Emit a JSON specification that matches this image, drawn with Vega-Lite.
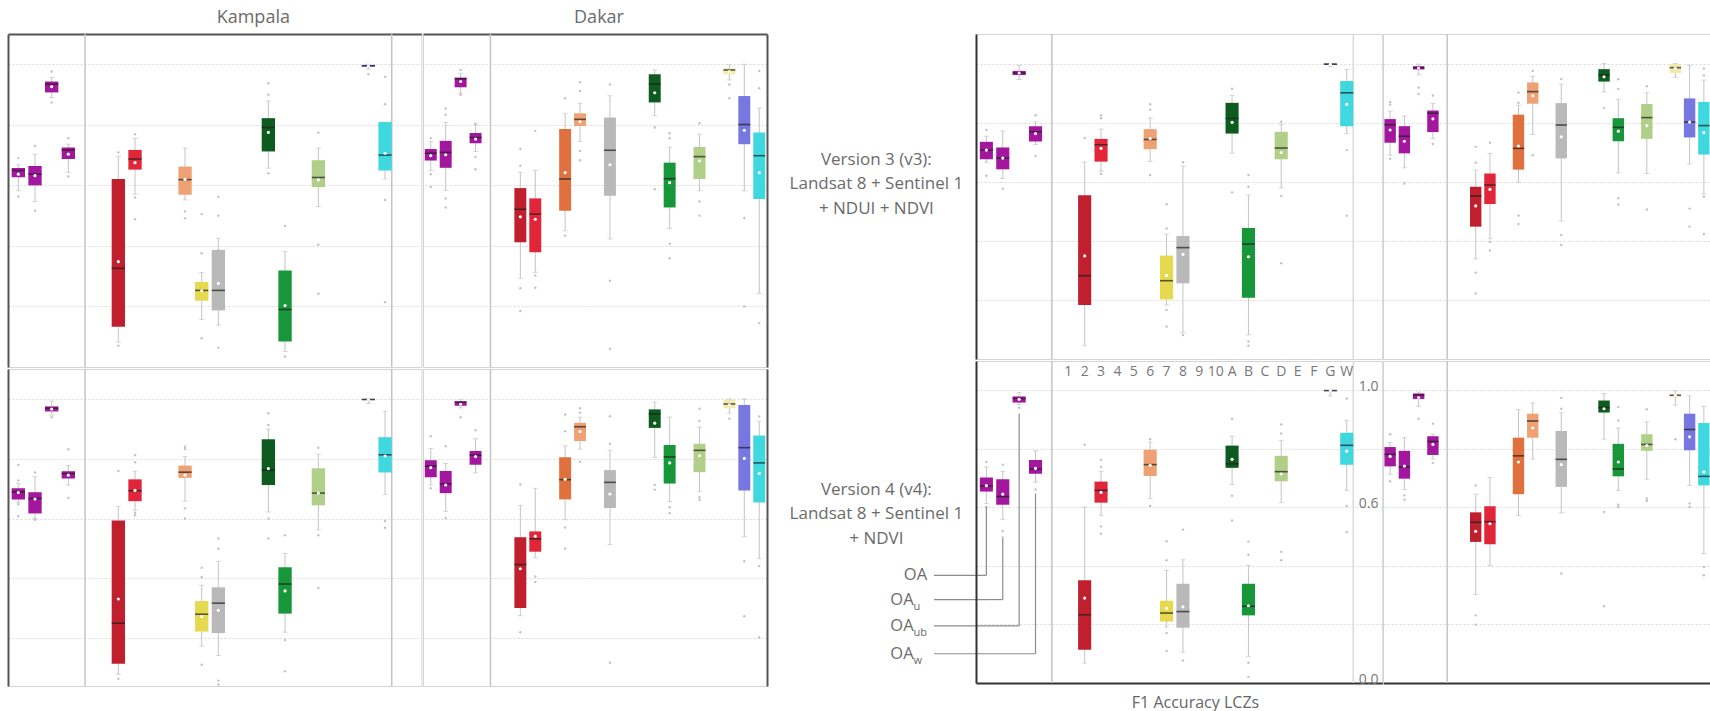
{
"$schema": "https://vega.github.io/schema/vega-lite/v6.json",
"padding": {"left": 7, "top": 8, "right": 0, "bottom": 0},
"config": {"font": "Open Sans", "view": {"stroke": "#d4d4d4"}, "axis": {"gridColor": "#d9d9d9", "gridDash": [2, 2], "gridWidth": 1}, "title": {"fontSize": 18, "fontWeight": "normal", "color": "#6b6b6b", "offset": 6, "font": "Open Sans"}},
"datasets": {
"boxes": [
{"p":"K3","c":"OA","lo":0.582,"q1":0.627,"md":0.649,"q3":0.657,"hi":0.668,"mn":0.637},
{"p":"K3","c":"OAu","lo":0.547,"q1":0.600,"md":0.637,"q3":0.664,"hi":0.703,"mn":0.632},
{"p":"K3","c":"OAub","lo":0.890,"q1":0.907,"md":0.934,"q3":0.943,"hi":0.956,"mn":0.926},
{"p":"K3","c":"OAw","lo":0.643,"q1":0.687,"md":0.717,"q3":0.725,"hi":0.736,"mn":0.703},
{"p":"K3","c":"2","lo":0.082,"q1":0.133,"md":0.326,"q3":0.621,"hi":0.696,"mn":0.348},
{"p":"K3","c":"3","lo":0.571,"q1":0.652,"md":0.687,"q3":0.717,"hi":0.755,"mn":0.675},
{"p":"K3","c":"6","lo":0.552,"q1":0.569,"md":0.619,"q3":0.662,"hi":0.723,"mn":0.620},
{"p":"K3","c":"7","lo":0.157,"q1":0.219,"md":0.253,"q3":0.281,"hi":0.312,"mn":0.252},
{"p":"K3","c":"8","lo":0.138,"q1":0.187,"md":0.253,"q3":0.387,"hi":0.425,"mn":0.276},
{"p":"K3","c":"A","lo":0.657,"q1":0.712,"md":0.791,"q3":0.822,"hi":0.879,"mn":0.775},
{"p":"K3","c":"B","lo":0.051,"q1":0.084,"md":0.190,"q3":0.319,"hi":0.381,"mn":0.203},
{"p":"K3","c":"D","lo":0.530,"q1":0.594,"md":0.626,"q3":0.683,"hi":0.723,"mn":0.618},
{"p":"K3","c":"G","lo":0.984,"q1":0.992,"md":0.995,"q3":0.998,"hi":1.0,"mn":0.995},
{"p":"K3","c":"W","lo":0.621,"q1":0.649,"md":0.700,"q3":0.809,"hi":0.809,"mn":0.706},
{"p":"D3","c":"OA","lo":0.649,"q1":0.682,"md":0.706,"q3":0.720,"hi":0.745,"mn":0.698},
{"p":"D3","c":"OAu","lo":0.584,"q1":0.658,"md":0.709,"q3":0.747,"hi":0.808,"mn":0.701},
{"p":"D3","c":"OAub","lo":0.904,"q1":0.924,"md":0.952,"q3":0.956,"hi":0.970,"mn":0.943},
{"p":"D3","c":"OAw","lo":0.712,"q1":0.739,"md":0.758,"q3":0.773,"hi":0.800,"mn":0.753},
{"p":"D3","c":"2","lo":0.293,"q1":0.412,"md":0.521,"q3":0.591,"hi":0.643,"mn":0.496},
{"p":"D3","c":"3","lo":0.313,"q1":0.379,"md":0.505,"q3":0.557,"hi":0.649,"mn":0.488},
{"p":"D3","c":"5","lo":0.450,"q1":0.516,"md":0.621,"q3":0.786,"hi":0.838,"mn":0.642},
{"p":"D3","c":"6","lo":0.745,"q1":0.796,"md":0.818,"q3":0.838,"hi":0.871,"mn":0.810},
{"p":"D3","c":"8","lo":0.423,"q1":0.566,"md":0.716,"q3":0.824,"hi":0.896,"mn":0.668},
{"p":"D3","c":"A","lo":0.830,"q1":0.874,"md":0.935,"q3":0.967,"hi":0.981,"mn":0.906},
{"p":"D3","c":"B","lo":0.458,"q1":0.527,"md":0.622,"q3":0.675,"hi":0.726,"mn":0.609},
{"p":"D3","c":"D","lo":0.582,"q1":0.621,"md":0.695,"q3":0.727,"hi":0.769,"mn":0.681},
{"p":"D3","c":"F","lo":0.948,"q1":0.967,"md":0.981,"q3":0.987,"hi":0.998,"mn":0.976},
{"p":"D3","c":"G","lo":0.582,"q1":0.736,"md":0.801,"q3":0.895,"hi":1.0,"mn":0.782},
{"p":"D3","c":"W","lo":0.243,"q1":0.555,"md":0.698,"q3":0.775,"hi":0.855,"mn":0.642},
{"p":"K4","c":"OA","lo":0.654,"q1":0.664,"md":0.689,"q3":0.701,"hi":0.717,"mn":0.687},
{"p":"K4","c":"OAu","lo":0.600,"q1":0.617,"md":0.667,"q3":0.688,"hi":0.740,"mn":0.665},
{"p":"K4","c":"OAub","lo":0.946,"q1":0.958,"md":0.969,"q3":0.975,"hi":0.993,"mn":0.966},
{"p":"K4","c":"OAw","lo":0.712,"q1":0.734,"md":0.750,"q3":0.758,"hi":0.777,"mn":0.745},
{"p":"K4","c":"2","lo":0.079,"q1":0.114,"md":0.250,"q3":0.593,"hi":0.641,"mn":0.331},
{"p":"K4","c":"3","lo":0.628,"q1":0.658,"md":0.693,"q3":0.731,"hi":0.759,"mn":0.694},
{"p":"K4","c":"6","lo":0.658,"q1":0.736,"md":0.755,"q3":0.777,"hi":0.807,"mn":0.745},
{"p":"K4","c":"7","lo":0.173,"q1":0.222,"md":0.280,"q3":0.324,"hi":0.377,"mn":0.272},
{"p":"K4","c":"8","lo":0.142,"q1":0.217,"md":0.317,"q3":0.370,"hi":0.457,"mn":0.293},
{"p":"K4","c":"A","lo":0.622,"q1":0.712,"md":0.762,"q3":0.865,"hi":0.899,"mn":0.767},
{"p":"K4","c":"B","lo":0.220,"q1":0.282,"md":0.381,"q3":0.437,"hi":0.483,"mn":0.358},
{"p":"K4","c":"D","lo":0.562,"q1":0.644,"md":0.685,"q3":0.768,"hi":0.815,"mn":0.685},
{"p":"K4","c":"G","lo":0.985,"q1":0.997,"md":0.998,"q3":1.0,"hi":1.0,"mn":0.998},
{"p":"K4","c":"W","lo":0.680,"q1":0.754,"md":0.813,"q3":0.872,"hi":0.958,"mn":0.809},
{"p":"D4","c":"OA","lo":0.712,"q1":0.738,"md":0.775,"q3":0.795,"hi":0.834,"mn":0.770},
{"p":"D4","c":"OAu","lo":0.624,"q1":0.685,"md":0.716,"q3":0.759,"hi":0.784,"mn":0.712},
{"p":"D4","c":"OAub","lo":0.970,"q1":0.977,"md":0.989,"q3":0.992,"hi":0.997,"mn":0.982},
{"p":"D4","c":"OAw","lo":0.753,"q1":0.780,"md":0.812,"q3":0.826,"hi":0.867,"mn":0.807},
{"p":"D4","c":"2","lo":0.275,"q1":0.301,"md":0.446,"q3":0.537,"hi":0.644,"mn":0.432},
{"p":"D4","c":"3","lo":0.469,"q1":0.489,"md":0.532,"q3":0.557,"hi":0.701,"mn":0.541},
{"p":"D4","c":"5","lo":0.596,"q1":0.664,"md":0.730,"q3":0.805,"hi":0.843,"mn":0.731},
{"p":"D4","c":"6","lo":0.832,"q1":0.859,"md":0.907,"q3":0.920,"hi":0.939,"mn":0.891},
{"p":"D4","c":"8","lo":0.513,"q1":0.635,"md":0.721,"q3":0.762,"hi":0.828,"mn":0.682},
{"p":"D4","c":"A","lo":0.804,"q1":0.903,"md":0.950,"q3":0.965,"hi":0.989,"mn":0.919},
{"p":"D4","c":"B","lo":0.657,"q1":0.717,"md":0.806,"q3":0.846,"hi":0.939,"mn":0.786},
{"p":"D4","c":"D","lo":0.690,"q1":0.755,"md":0.828,"q3":0.850,"hi":0.906,"mn":0.810},
{"p":"D4","c":"F","lo":0.952,"q1":0.969,"md":0.983,"q3":0.997,"hi":1.0,"mn":0.980},
{"p":"D4","c":"G","lo":0.539,"q1":0.694,"md":0.837,"q3":0.980,"hi":1.0,"mn":0.801},
{"p":"D4","c":"W","lo":0.466,"q1":0.654,"md":0.786,"q3":0.878,"hi":0.925,"mn":0.751},
{"p":"A3","c":"OA","lo":0.666,"q1":0.676,"md":0.707,"q3":0.735,"hi":0.754,"mn":0.707},
{"p":"A3","c":"OAu","lo":0.611,"q1":0.642,"md":0.680,"q3":0.716,"hi":0.772,"mn":0.680},
{"p":"A3","c":"OAub","lo":0.946,"q1":0.961,"md":0.968,"q3":0.975,"hi":0.994,"mn":0.968},
{"p":"A3","c":"OAw","lo":0.726,"q1":0.736,"md":0.769,"q3":0.788,"hi":0.803,"mn":0.763},
{"p":"A3","c":"2","lo":0.045,"q1":0.183,"md":0.282,"q3":0.554,"hi":0.666,"mn":0.349},
{"p":"A3","c":"3","lo":0.635,"q1":0.668,"md":0.725,"q3":0.745,"hi":0.778,"mn":0.713},
{"p":"A3","c":"6","lo":0.669,"q1":0.710,"md":0.743,"q3":0.778,"hi":0.816,"mn":0.746},
{"p":"A3","c":"7","lo":0.183,"q1":0.202,"md":0.265,"q3":0.350,"hi":0.423,"mn":0.283},
{"p":"A3","c":"8","lo":0.090,"q1":0.256,"md":0.377,"q3":0.416,"hi":0.653,"mn":0.354},
{"p":"A3","c":"A","lo":0.696,"q1":0.763,"md":0.814,"q3":0.867,"hi":0.892,"mn":0.801},
{"p":"A3","c":"B","lo":0.082,"q1":0.207,"md":0.389,"q3":0.443,"hi":0.555,"mn":0.346},
{"p":"A3","c":"D","lo":0.579,"q1":0.676,"md":0.714,"q3":0.769,"hi":0.794,"mn":0.699},
{"p":"A3","c":"G","lo":0.990,"q1":0.995,"md":0.998,"q3":1.0,"hi":1.0,"mn":0.998},
{"p":"A3","c":"W","lo":0.763,"q1":0.788,"md":0.901,"q3":0.941,"hi":0.980,"mn":0.862},
{"p":"B3","c":"OA","lo":0.690,"q1":0.732,"md":0.793,"q3":0.812,"hi":0.839,"mn":0.775},
{"p":"B3","c":"OAu","lo":0.647,"q1":0.696,"md":0.754,"q3":0.788,"hi":0.822,"mn":0.737},
{"p":"B3","c":"OAub","lo":0.962,"q1":0.980,"md":0.986,"q3":0.991,"hi":0.998,"mn":0.985},
{"p":"B3","c":"OAw","lo":0.746,"q1":0.768,"md":0.832,"q3":0.841,"hi":0.865,"mn":0.813},
{"p":"B3","c":"2","lo":0.339,"q1":0.448,"md":0.552,"q3":0.583,"hi":0.639,"mn":0.518},
{"p":"B3","c":"3","lo":0.407,"q1":0.525,"md":0.589,"q3":0.628,"hi":0.696,"mn":0.574},
{"p":"B3","c":"5","lo":0.597,"q1":0.641,"md":0.713,"q3":0.827,"hi":0.859,"mn":0.721},
{"p":"B3","c":"6","lo":0.760,"q1":0.864,"md":0.905,"q3":0.936,"hi":0.957,"mn":0.891},
{"p":"B3","c":"8","lo":0.467,"q1":0.679,"md":0.792,"q3":0.866,"hi":0.930,"mn":0.752},
{"p":"B3","c":"A","lo":0.904,"q1":0.939,"md":0.961,"q3":0.981,"hi":1.0,"mn":0.955},
{"p":"B3","c":"B","lo":0.630,"q1":0.737,"md":0.784,"q3":0.815,"hi":0.879,"mn":0.771},
{"p":"B3","c":"D","lo":0.628,"q1":0.745,"md":0.817,"q3":0.863,"hi":0.901,"mn":0.790},
{"p":"B3","c":"F","lo":0.953,"q1":0.968,"md":0.986,"q3":0.998,"hi":1.0,"mn":0.984},
{"p":"B3","c":"G","lo":0.660,"q1":0.750,"md":0.802,"q3":0.882,"hi":0.994,"mn":0.802},
{"p":"B3","c":"W","lo":0.558,"q1":0.692,"md":0.790,"q3":0.870,"hi":0.944,"mn":0.766},
{"p":"A4","c":"OA","lo":0.613,"q1":0.654,"md":0.673,"q3":0.702,"hi":0.738,"mn":0.674},
{"p":"A4","c":"OAu","lo":0.559,"q1":0.609,"md":0.637,"q3":0.696,"hi":0.723,"mn":0.645},
{"p":"A4","c":"OAub","lo":0.951,"q1":0.958,"md":0.972,"q3":0.979,"hi":0.992,"mn":0.969},
{"p":"A4","c":"OAw","lo":0.686,"q1":0.715,"md":0.731,"q3":0.762,"hi":0.793,"mn":0.733},
{"p":"A4","c":"2","lo":0.068,"q1":0.114,"md":0.233,"q3":0.351,"hi":0.601,"mn":0.290},
{"p":"A4","c":"3","lo":0.572,"q1":0.616,"md":0.658,"q3":0.688,"hi":0.723,"mn":0.651},
{"p":"A4","c":"6","lo":0.630,"q1":0.707,"md":0.746,"q3":0.797,"hi":0.823,"mn":0.744},
{"p":"A4","c":"7","lo":0.191,"q1":0.210,"md":0.239,"q3":0.281,"hi":0.385,"mn":0.255},
{"p":"A4","c":"8","lo":0.105,"q1":0.189,"md":0.244,"q3":0.339,"hi":0.421,"mn":0.260},
{"p":"A4","c":"A","lo":0.678,"q1":0.735,"md":0.749,"q3":0.811,"hi":0.843,"mn":0.764},
{"p":"A4","c":"B","lo":0.091,"q1":0.231,"md":0.262,"q3":0.339,"hi":0.402,"mn":0.264},
{"p":"A4","c":"D","lo":0.616,"q1":0.689,"md":0.722,"q3":0.776,"hi":0.828,"mn":0.714},
{"p":"A4","c":"G","lo":0.981,"q1":0.997,"md":0.999,"q3":1.0,"hi":1.0,"mn":0.999},
{"p":"A4","c":"W","lo":0.658,"q1":0.746,"md":0.812,"q3":0.855,"hi":0.897,"mn":0.792},
{"p":"B4","c":"OA","lo":0.713,"q1":0.740,"md":0.781,"q3":0.806,"hi":0.822,"mn":0.774},
{"p":"B4","c":"OAu","lo":0.661,"q1":0.698,"md":0.738,"q3":0.793,"hi":0.838,"mn":0.741},
{"p":"B4","c":"OAub","lo":0.945,"q1":0.970,"md":0.984,"q3":0.989,"hi":0.994,"mn":0.975},
{"p":"B4","c":"OAw","lo":0.765,"q1":0.779,"md":0.825,"q3":0.843,"hi":0.850,"mn":0.815},
{"p":"B4","c":"2","lo":0.302,"q1":0.482,"md":0.549,"q3":0.583,"hi":0.645,"mn":0.518},
{"p":"B4","c":"3","lo":0.402,"q1":0.474,"md":0.551,"q3":0.604,"hi":0.702,"mn":0.544},
{"p":"B4","c":"5","lo":0.572,"q1":0.645,"md":0.776,"q3":0.838,"hi":0.934,"mn":0.755},
{"p":"B4","c":"6","lo":0.765,"q1":0.838,"md":0.895,"q3":0.920,"hi":0.957,"mn":0.871},
{"p":"B4","c":"8","lo":0.581,"q1":0.670,"md":0.764,"q3":0.861,"hi":0.923,"mn":0.746},
{"p":"B4","c":"A","lo":0.833,"q1":0.924,"md":0.941,"q3":0.965,"hi":0.989,"mn":0.937},
{"p":"B4","c":"B","lo":0.658,"q1":0.706,"md":0.731,"q3":0.817,"hi":0.871,"mn":0.755},
{"p":"B4","c":"D","lo":0.696,"q1":0.793,"md":0.815,"q3":0.850,"hi":0.892,"mn":0.811},
{"p":"B4","c":"F","lo":0.949,"q1":0.978,"md":0.983,"q3":0.986,"hi":0.998,"mn":0.983},
{"p":"B4","c":"G","lo":0.675,"q1":0.795,"md":0.866,"q3":0.920,"hi":0.981,"mn":0.841},
{"p":"B4","c":"W","lo":0.442,"q1":0.675,"md":0.706,"q3":0.888,"hi":0.945,"mn":0.721}
],
"outl": [
{"p":"K3","c":"OA","v":0.690},{"p":"K3","c":"OA","v":0.563},{"p":"K3","c":"OAu","v":0.730},{"p":"K3","c":"OAu","v":0.516},{"p":"K3","c":"OAub","v":0.976},{"p":"K3","c":"OAub","v":0.874},{"p":"K3","c":"OAw","v":0.756},{"p":"K3","c":"OAw","v":0.629},
{"p":"K3","c":"2","v":0.709},{"p":"K3","c":"2","v":0.070},{"p":"K3","c":"3","v":0.769},{"p":"K3","c":"3","v":0.560},{"p":"K3","c":"3","v":0.488},{"p":"K3","c":"6","v":0.514},{"p":"K3","c":"6","v":0.491},
{"p":"K3","c":"7","v":0.376},{"p":"K3","c":"7","v":0.505},{"p":"K3","c":"7","v":0.095},{"p":"K3","c":"8","v":0.562},{"p":"K3","c":"8","v":0.500},{"p":"K3","c":"8","v":0.064},
{"p":"K3","c":"A","v":0.899},{"p":"K3","c":"A","v":0.937},{"p":"K3","c":"A","v":0.640},{"p":"K3","c":"B","v":0.466},{"p":"K3","c":"B","v":0.035},{"p":"K3","c":"D","v":0.774},{"p":"K3","c":"D","v":0.404},{"p":"K3","c":"D","v":0.242},
{"p":"K3","c":"G","v":0.967},{"p":"K3","c":"W","v":0.959},{"p":"K3","c":"W","v":0.868},{"p":"K3","c":"W","v":0.552},{"p":"K3","c":"W","v":0.214},
{"p":"D3","c":"OA","v":0.756},{"p":"D3","c":"OA","v":0.637},{"p":"D3","c":"OA","v":0.595},{"p":"D3","c":"OAu","v":0.854},{"p":"D3","c":"OAu","v":0.833},{"p":"D3","c":"OAu","v":0.557},{"p":"D3","c":"OAu","v":0.527},
{"p":"D3","c":"OAub","v":0.981},{"p":"D3","c":"OAub","v":0.899},{"p":"D3","c":"OAw","v":0.804},{"p":"D3","c":"OAw","v":0.694},{"p":"D3","c":"OAw","v":0.653},
{"p":"D3","c":"2","v":0.720},{"p":"D3","c":"2","v":0.665},{"p":"D3","c":"2","v":0.260},{"p":"D3","c":"2","v":0.185},{"p":"D3","c":"3","v":0.780},{"p":"D3","c":"3","v":0.302},{"p":"D3","c":"3","v":0.262},
{"p":"D3","c":"5","v":0.888},{"p":"D3","c":"5","v":0.434},{"p":"D3","c":"6","v":0.941},{"p":"D3","c":"6","v":0.912},{"p":"D3","c":"6","v":0.714},{"p":"D3","c":"6","v":0.683},
{"p":"D3","c":"8","v":0.933},{"p":"D3","c":"8","v":0.285},{"p":"D3","c":"8","v":0.060},{"p":"D3","c":"A","v":0.791},{"p":"D3","c":"A","v":0.587},
{"p":"D3","c":"B","v":0.772},{"p":"D3","c":"B","v":0.756},{"p":"D3","c":"B","v":0.407},{"p":"D3","c":"B","v":0.359},{"p":"D3","c":"D","v":0.805},{"p":"D3","c":"D","v":0.547},{"p":"D3","c":"D","v":0.500},
{"p":"D3","c":"F","v":0.933},{"p":"D3","c":"F","v":0.888},{"p":"D3","c":"G","v":0.492},{"p":"D3","c":"G","v":0.200},{"p":"D3","c":"W","v":0.978},{"p":"D3","c":"W","v":0.921},{"p":"D3","c":"W","v":0.145},
{"p":"K4","c":"OA","v":0.779},{"p":"K4","c":"OA","v":0.727},{"p":"K4","c":"OA","v":0.648},{"p":"K4","c":"OA","v":0.608},{"p":"K4","c":"OAu","v":0.754},{"p":"K4","c":"OAu","v":0.596},{"p":"K4","c":"OAub","v":0.939},{"p":"K4","c":"OAw","v":0.832},{"p":"K4","c":"OAw","v":0.669},
{"p":"K4","c":"2","v":0.759},{"p":"K4","c":"2","v":0.064},{"p":"K4","c":"3","v":0.812},{"p":"K4","c":"3","v":0.788},{"p":"K4","c":"3","v":0.619},{"p":"K4","c":"3","v":0.611},
{"p":"K4","c":"6","v":0.840},{"p":"K4","c":"6","v":0.832},{"p":"K4","c":"6","v":0.634},{"p":"K4","c":"6","v":0.600},{"p":"K4","c":"7","v":0.435},{"p":"K4","c":"7","v":0.404},{"p":"K4","c":"7","v":0.111},
{"p":"K4","c":"8","v":0.533},{"p":"K4","c":"8","v":0.499},{"p":"K4","c":"8","v":0.058},{"p":"K4","c":"8","v":0.045},{"p":"K4","c":"A","v":0.952},{"p":"K4","c":"A","v":0.913},{"p":"K4","c":"A","v":0.600},{"p":"K4","c":"A","v":0.533},
{"p":"K4","c":"B","v":0.544},{"p":"K4","c":"B","v":0.194},{"p":"K4","c":"B","v":0.089},{"p":"K4","c":"D","v":0.837},{"p":"K4","c":"D","v":0.544},{"p":"K4","c":"D","v":0.368},{"p":"K4","c":"W","v":0.592},{"p":"K4","c":"W","v":0.569},
{"p":"D4","c":"OA","v":0.875},{"p":"D4","c":"OA","v":0.701},{"p":"D4","c":"OAu","v":0.842},{"p":"D4","c":"OAu","v":0.602},{"p":"D4","c":"OAub","v":0.939},{"p":"D4","c":"OAw","v":0.895},
{"p":"D4","c":"2","v":0.714},{"p":"D4","c":"2","v":0.220},{"p":"D4","c":"3","v":0.406},{"p":"D4","c":"3","v":0.388},{"p":"D4","c":"5","v":0.948},{"p":"D4","c":"5","v":0.892},{"p":"D4","c":"5","v":0.570},{"p":"D4","c":"5","v":0.500},
{"p":"D4","c":"6","v":0.969},{"p":"D4","c":"6","v":0.954},{"p":"D4","c":"6","v":0.790},{"p":"D4","c":"8","v":0.942},{"p":"D4","c":"8","v":0.850},{"p":"D4","c":"8","v":0.118},{"p":"D4","c":"A","v":0.712},{"p":"D4","c":"A","v":0.696},
{"p":"D4","c":"B","v":0.638},{"p":"D4","c":"B","v":0.618},{"p":"D4","c":"D","v":0.967},{"p":"D4","c":"D","v":0.926},{"p":"D4","c":"D","v":0.671},{"p":"D4","c":"D","v":0.662},{"p":"D4","c":"F","v":0.934},
{"p":"D4","c":"G","v":0.457},{"p":"D4","c":"G","v":0.273},{"p":"D4","c":"W","v":0.941},{"p":"D4","c":"W","v":0.441},{"p":"D4","c":"W","v":0.203},
{"p":"A3","c":"OA","v":0.775},{"p":"A3","c":"OA","v":0.620},{"p":"A3","c":"OAu","v":0.576},{"p":"A3","c":"OAw","v":0.825},{"p":"A3","c":"OAw","v":0.687},{"p":"A3","c":"2","v":0.748},
{"p":"A3","c":"3","v":0.825},{"p":"A3","c":"3","v":0.815},{"p":"A3","c":"3","v":0.626},{"p":"A3","c":"6","v":0.862},{"p":"A3","c":"6","v":0.844},{"p":"A3","c":"6","v":0.623},
{"p":"A3","c":"7","v":0.524},{"p":"A3","c":"7","v":0.442},{"p":"A3","c":"7","v":0.166},{"p":"A3","c":"7","v":0.110},{"p":"A3","c":"8","v":0.666},{"p":"A3","c":"8","v":0.081},{"p":"A3","c":"A","v":0.915},{"p":"A3","c":"A","v":0.564},
{"p":"A3","c":"B","v":0.623},{"p":"A3","c":"B","v":0.583},{"p":"A3","c":"B","v":0.059},{"p":"A3","c":"B","v":0.045},{"p":"A3","c":"D","v":0.803},{"p":"A3","c":"D","v":0.552},{"p":"A3","c":"D","v":0.324},{"p":"A3","c":"W","v":0.707},{"p":"A3","c":"W","v":0.485},
{"p":"B3","c":"OA","v":0.870},{"p":"B3","c":"OA","v":0.861},{"p":"B3","c":"OA","v":0.678},{"p":"B3","c":"OAu","v":0.594},{"p":"B3","c":"OAub","v":0.919},{"p":"B3","c":"OAub","v":0.897},{"p":"B3","c":"OAw","v":0.892},{"p":"B3","c":"OAw","v":0.728},
{"p":"B3","c":"2","v":0.718},{"p":"B3","c":"2","v":0.664},{"p":"B3","c":"2","v":0.292},{"p":"B3","c":"2","v":0.222},{"p":"B3","c":"3","v":0.732},{"p":"B3","c":"3","v":0.397},{"p":"B3","c":"3","v":0.367},
{"p":"B3","c":"5","v":0.902},{"p":"B3","c":"5","v":0.867},{"p":"B3","c":"5","v":0.486},{"p":"B3","c":"5","v":0.457},{"p":"B3","c":"6","v":0.975},{"p":"B3","c":"6","v":0.690},
{"p":"B3","c":"8","v":0.948},{"p":"B3","c":"8","v":0.420},{"p":"B3","c":"8","v":0.386},{"p":"B3","c":"A","v":0.850},{"p":"B3","c":"B","v":0.947},{"p":"B3","c":"B","v":0.914},{"p":"B3","c":"B","v":0.544},{"p":"B3","c":"B","v":0.523},
{"p":"B3","c":"D","v":0.923},{"p":"B3","c":"D","v":0.506},{"p":"B3","c":"G","v":0.509},{"p":"B3","c":"G","v":0.448},{"p":"B3","c":"W","v":0.983},{"p":"B3","c":"W","v":0.960},{"p":"B3","c":"W","v":0.549},{"p":"B3","c":"W","v":0.423},
{"p":"A4","c":"OA","v":0.755},{"p":"A4","c":"OA","v":0.601},{"p":"A4","c":"OAu","v":0.746},{"p":"A4","c":"OAu","v":0.519},{"p":"A4","c":"OAu","v":0.497},{"p":"A4","c":"OAub","v":0.940},{"p":"A4","c":"OAw","v":0.661},
{"p":"A4","c":"2","v":0.814},{"p":"A4","c":"3","v":0.763},{"p":"A4","c":"3","v":0.738},{"p":"A4","c":"3","v":0.535},{"p":"A4","c":"3","v":0.510},{"p":"A4","c":"6","v":0.833},{"p":"A4","c":"6","v":0.605},
{"p":"A4","c":"7","v":0.484},{"p":"A4","c":"7","v":0.419},{"p":"A4","c":"7","v":0.171},{"p":"A4","c":"7","v":0.109},{"p":"A4","c":"8","v":0.524},{"p":"A4","c":"8","v":0.077},
{"p":"A4","c":"A","v":0.903},{"p":"A4","c":"A","v":0.640},{"p":"A4","c":"A","v":0.555},{"p":"A4","c":"B","v":0.483},{"p":"A4","c":"B","v":0.438},{"p":"A4","c":"B","v":0.069},{"p":"A4","c":"B","v":0.021},
{"p":"A4","c":"D","v":0.883},{"p":"A4","c":"D","v":0.852},{"p":"A4","c":"D","v":0.448},{"p":"A4","c":"D","v":0.419},{"p":"A4","c":"W","v":0.972},{"p":"A4","c":"W","v":0.605},{"p":"A4","c":"W","v":0.515},
{"p":"B4","c":"OA","v":0.850},{"p":"B4","c":"OA","v":0.689},{"p":"B4","c":"OAu","v":0.641},{"p":"B4","c":"OAu","v":0.626},{"p":"B4","c":"OAub","v":0.903},{"p":"B4","c":"OAw","v":0.886},{"p":"B4","c":"OAw","v":0.752},
{"p":"B4","c":"2","v":0.675},{"p":"B4","c":"2","v":0.231},{"p":"B4","c":"2","v":0.199},{"p":"B4","c":"8","v":0.974},{"p":"B4","c":"8","v":0.937},{"p":"B4","c":"8","v":0.374},{"p":"B4","c":"A","v":0.584},{"p":"B4","c":"A","v":0.262},
{"p":"B4","c":"B","v":0.943},{"p":"B4","c":"B","v":0.897},{"p":"B4","c":"B","v":0.609},{"p":"B4","c":"B","v":0.601},{"p":"B4","c":"D","v":0.935},{"p":"B4","c":"D","v":0.630},{"p":"B4","c":"D","v":0.622},
{"p":"B4","c":"F","v":0.833},{"p":"B4","c":"G","v":0.613},{"p":"B4","c":"G","v":0.601},{"p":"B4","c":"W","v":0.396},{"p":"B4","c":"W","v":0.368}
],
"classes": [{"c":"1"},{"c":"2"},{"c":"3"},{"c":"4"},{"c":"5"},{"c":"6"},{"c":"7"},{"c":"8"},{"c":"9"},{"c":"10"},{"c":"A"},{"c":"B"},{"c":"C"},{"c":"D"},{"c":"E"},{"c":"F"},{"c":"G"},{"c":"W"}],
"leaders": [
{"main":"OA","sub":"","m":"OA","lab":0.368,"top":0.602},
{"main":"OA","sub":"u","m":"OAu","lab":0.285,"top":0.494},
{"main":"OA","sub":"ub","m":"OAub","lab":0.195,"top":0.921},
{"main":"OA","sub":"w","m":"OAw","lab":0.100,"top":0.647}
],
"leadh": [
{"g":"OAu","m":"OA","lab":0.285},{"g":"OAu","m":"OAu","lab":0.285},
{"g":"OAub","m":"OA","lab":0.195},{"g":"OAub","m":"OAub","lab":0.195},
{"g":"OAw","m":"OA","lab":0.100},{"g":"OAw","m":"OAw","lab":0.100}
],
"notes": [
{"v":"v3","lines":["Version 3 (v3):","Landsat 8 + Sentinel 1","+ NDUI + NDVI"]},
{"v":"v4","lines":["Version 4 (v4):","Landsat 8 + Sentinel 1","+ NDVI"]}
]
},
"hconcat": [
{"vconcat": [
 {"hconcat": [
  {"width": 413.4, "height": 333, "title": {"text": "Kampala", "dx": 38.6},
   "layer": [
    {"data": {"values": [{"c": "|"}]}, "mark": {"type": "rule", "color": "#c4c4c4", "strokeWidth": 1.5},
     "encoding": {"x": {"field": "c", "type": "nominal", "scale": {"type": "band", "domain": ["OA","OAu","OAub","OAw","|","1","2","3","4","5","6","7","8","9","10","A","B","C","D","E","F","G","W"], "paddingInner": 0.2, "paddingOuter": 1.126, "align": 0.11}, "axis": {"orient": "top", "labels": false, "ticks": false, "title": null, "domainColor": "#555555", "domainWidth": 2}}}},
    {"data": {"values": [{"c": "W"}]}, "mark": {"type": "rule", "color": "#c4c4c4", "strokeWidth": 1.5}, "encoding": {"x": {"field": "c", "type": "nominal", "bandPosition": 1}}},
    {"data": {"name": "outl"}, "transform": [{"filter": "datum.p == 'K3'"}], "mark": {"type": "point", "filled": true, "color": "#c3c3c3", "opacity": 1, "size": 6, "clip": true}, "encoding": {"x": {"field": "c", "type": "nominal"}, "y": {"field": "v", "type": "quantitative", "scale": {"domain": [0, 1.1], "nice": false, "zero": false}, "axis": {"orient": "left", "domainColor": "#555555", "domainWidth": 2, "labels": false, "ticks": false, "title": null, "grid": true, "values": [0.2, 0.4, 0.6, 0.8, 1.0]}}}},
    {"data": {"name": "boxes"}, "transform": [{"filter": "datum.p == 'K3'"}], "layer": [
     {"mark": {"type": "rule", "color": "#c4c4c4", "strokeWidth": 1}, "encoding": {"x": {"field": "c", "type": "nominal"}, "y": {"field": "lo", "type": "quantitative"}, "y2": {"field": "hi"}}},
     {"mark": {"type": "tick", "color": "#c4c4c4", "size": 5, "thickness": 1}, "encoding": {"x": {"field": "c", "type": "nominal"}, "y": {"field": "lo", "type": "quantitative"}}},
     {"mark": {"type": "tick", "color": "#c4c4c4", "size": 5, "thickness": 1}, "encoding": {"x": {"field": "c", "type": "nominal"}, "y": {"field": "hi", "type": "quantitative"}}},
     {"mark": {"type": "bar"}, "encoding": {"x": {"field": "c", "type": "nominal"}, "y": {"field": "q1", "type": "quantitative"}, "y2": {"field": "q3"}, "color": {"field": "c", "type": "nominal", "legend": null, "scale": {"domain": ["OA","OAu","OAub","OAw","1","2","3","4","5","6","7","8","9","10","A","B","C","D","E","F","G","W"], "range": ["#a3179e","#a3179e","#a3179e","#a3179e","#8c0000","#c01f2e","#e1263a","#bf4d00","#e0713f","#eea273","#e6d84f","#b9b9b9","#ffccaa","#555555","#0d5b1f","#18963a","#648525","#b2cf89","#333333","#f2eaa8","#7777e0","#3fd8df"]}}}},
     {"mark": {"type": "tick", "color": "#1e1e1e", "thickness": 1.6, "size": 13.2}, "encoding": {"x": {"field": "c", "type": "nominal"}, "y": {"field": "md", "type": "quantitative"}}},
     {"mark": {"type": "point", "filled": true, "color": "#ffffff", "opacity": 1, "size": 10}, "encoding": {"x": {"field": "c", "type": "nominal"}, "y": {"field": "mn", "type": "quantitative"}}}
    ]}
   ]},
  {"width": 344, "height": 333, "title": {"text": "Dakar", "dx": 4},
   "layer": [
    {"data": {"values": [{"c": "|"}]}, "mark": {"type": "rule", "color": "#c4c4c4", "strokeWidth": 1.5},
     "encoding": {"x": {"field": "c", "type": "nominal", "scale": {"type": "band", "domain": ["OA","OAu","OAub","OAw","|","1","2","3","4","5","6","7","8","9","10","A","B","C","D","E","F","G","W"], "paddingInner": 0.2, "paddingOuter": 0.12}, "axis": {"orient": "top", "labels": false, "ticks": false, "title": null, "domainColor": "#555555", "domainWidth": 2}}}},
    {"data": {"name": "outl"}, "transform": [{"filter": "datum.p == 'D3'"}], "mark": {"type": "point", "filled": true, "color": "#c3c3c3", "opacity": 1, "size": 6, "clip": true}, "encoding": {"x": {"field": "c", "type": "nominal"}, "y": {"field": "v", "type": "quantitative", "scale": {"domain": [0, 1.1], "nice": false, "zero": false}, "axis": {"orient": "right", "domainColor": "#555555", "domainWidth": 2, "labels": false, "ticks": false, "title": null, "grid": true, "values": [0.2, 0.4, 0.6, 0.8, 1.0]}}}},
    {"data": {"name": "boxes"}, "transform": [{"filter": "datum.p == 'D3'"}], "layer": [
     {"mark": {"type": "rule", "color": "#c4c4c4", "strokeWidth": 1}, "encoding": {"x": {"field": "c", "type": "nominal"}, "y": {"field": "lo", "type": "quantitative"}, "y2": {"field": "hi"}}},
     {"mark": {"type": "tick", "color": "#c4c4c4", "size": 5, "thickness": 1}, "encoding": {"x": {"field": "c", "type": "nominal"}, "y": {"field": "lo", "type": "quantitative"}}},
     {"mark": {"type": "tick", "color": "#c4c4c4", "size": 5, "thickness": 1}, "encoding": {"x": {"field": "c", "type": "nominal"}, "y": {"field": "hi", "type": "quantitative"}}},
     {"mark": {"type": "bar"}, "encoding": {"x": {"field": "c", "type": "nominal"}, "y": {"field": "q1", "type": "quantitative"}, "y2": {"field": "q3"}, "color": {"field": "c", "type": "nominal", "legend": null, "scale": {"domain": ["OA","OAu","OAub","OAw","1","2","3","4","5","6","7","8","9","10","A","B","C","D","E","F","G","W"], "range": ["#a3179e","#a3179e","#a3179e","#a3179e","#8c0000","#c01f2e","#e1263a","#bf4d00","#e0713f","#eea273","#e6d84f","#b9b9b9","#ffccaa","#555555","#0d5b1f","#18963a","#648525","#b2cf89","#333333","#f2eaa8","#7777e0","#3fd8df"]}}}},
     {"mark": {"type": "tick", "color": "#1e1e1e", "thickness": 1.6, "size": 11.9}, "encoding": {"x": {"field": "c", "type": "nominal"}, "y": {"field": "md", "type": "quantitative"}}},
     {"mark": {"type": "point", "filled": true, "color": "#ffffff", "opacity": 1, "size": 10}, "encoding": {"x": {"field": "c", "type": "nominal"}, "y": {"field": "mn", "type": "quantitative"}}}
    ]}
   ]}
 ], "spacing": 0},
 {"hconcat": [
  {"width": 413.4, "height": 317,
   "layer": [
    {"data": {"values": [{"c": "|"}]}, "mark": {"type": "rule", "color": "#c4c4c4", "strokeWidth": 1.5},
     "encoding": {"x": {"field": "c", "type": "nominal", "scale": {"type": "band", "domain": ["OA","OAu","OAub","OAw","|","1","2","3","4","5","6","7","8","9","10","A","B","C","D","E","F","G","W"], "paddingInner": 0.2, "paddingOuter": 1.126, "align": 0.11}, "axis": null}}},
    {"data": {"values": [{"c": "W"}]}, "mark": {"type": "rule", "color": "#c4c4c4", "strokeWidth": 1.5}, "encoding": {"x": {"field": "c", "type": "nominal", "bandPosition": 1}}},
    {"data": {"name": "outl"}, "transform": [{"filter": "datum.p == 'K4'"}], "mark": {"type": "point", "filled": true, "color": "#c3c3c3", "opacity": 1, "size": 6, "clip": true}, "encoding": {"x": {"field": "c", "type": "nominal"}, "y": {"field": "v", "type": "quantitative", "scale": {"domain": [0.04, 1.1], "nice": false, "zero": false}, "axis": {"orient": "left", "domainColor": "#555555", "domainWidth": 2, "labels": false, "ticks": false, "title": null, "grid": true, "values": [0.2, 0.4, 0.6, 0.8, 1.0]}}}},
    {"data": {"name": "boxes"}, "transform": [{"filter": "datum.p == 'K4'"}], "layer": [
     {"mark": {"type": "rule", "color": "#c4c4c4", "strokeWidth": 1}, "encoding": {"x": {"field": "c", "type": "nominal"}, "y": {"field": "lo", "type": "quantitative"}, "y2": {"field": "hi"}}},
     {"mark": {"type": "tick", "color": "#c4c4c4", "size": 5, "thickness": 1}, "encoding": {"x": {"field": "c", "type": "nominal"}, "y": {"field": "lo", "type": "quantitative"}}},
     {"mark": {"type": "tick", "color": "#c4c4c4", "size": 5, "thickness": 1}, "encoding": {"x": {"field": "c", "type": "nominal"}, "y": {"field": "hi", "type": "quantitative"}}},
     {"mark": {"type": "bar"}, "encoding": {"x": {"field": "c", "type": "nominal"}, "y": {"field": "q1", "type": "quantitative"}, "y2": {"field": "q3"}, "color": {"field": "c", "type": "nominal", "legend": null, "scale": {"domain": ["OA","OAu","OAub","OAw","1","2","3","4","5","6","7","8","9","10","A","B","C","D","E","F","G","W"], "range": ["#a3179e","#a3179e","#a3179e","#a3179e","#8c0000","#c01f2e","#e1263a","#bf4d00","#e0713f","#eea273","#e6d84f","#b9b9b9","#ffccaa","#555555","#0d5b1f","#18963a","#648525","#b2cf89","#333333","#f2eaa8","#7777e0","#3fd8df"]}}}},
     {"mark": {"type": "tick", "color": "#1e1e1e", "thickness": 1.6, "size": 13.2}, "encoding": {"x": {"field": "c", "type": "nominal"}, "y": {"field": "md", "type": "quantitative"}}},
     {"mark": {"type": "point", "filled": true, "color": "#ffffff", "opacity": 1, "size": 10}, "encoding": {"x": {"field": "c", "type": "nominal"}, "y": {"field": "mn", "type": "quantitative"}}}
    ]}
   ]},
  {"width": 344, "height": 317,
   "layer": [
    {"data": {"values": [{"c": "|"}]}, "mark": {"type": "rule", "color": "#c4c4c4", "strokeWidth": 1.5},
     "encoding": {"x": {"field": "c", "type": "nominal", "scale": {"type": "band", "domain": ["OA","OAu","OAub","OAw","|","1","2","3","4","5","6","7","8","9","10","A","B","C","D","E","F","G","W"], "paddingInner": 0.2, "paddingOuter": 0.12}, "axis": null}}},
    {"data": {"name": "outl"}, "transform": [{"filter": "datum.p == 'D4'"}], "mark": {"type": "point", "filled": true, "color": "#c3c3c3", "opacity": 1, "size": 6, "clip": true}, "encoding": {"x": {"field": "c", "type": "nominal"}, "y": {"field": "v", "type": "quantitative", "scale": {"domain": [0.04, 1.1], "nice": false, "zero": false}, "axis": {"orient": "right", "domainColor": "#555555", "domainWidth": 2, "labels": false, "ticks": false, "title": null, "grid": true, "values": [0.2, 0.4, 0.6, 0.8, 1.0]}}}},
    {"data": {"name": "boxes"}, "transform": [{"filter": "datum.p == 'D4'"}], "layer": [
     {"mark": {"type": "rule", "color": "#c4c4c4", "strokeWidth": 1}, "encoding": {"x": {"field": "c", "type": "nominal"}, "y": {"field": "lo", "type": "quantitative"}, "y2": {"field": "hi"}}},
     {"mark": {"type": "tick", "color": "#c4c4c4", "size": 5, "thickness": 1}, "encoding": {"x": {"field": "c", "type": "nominal"}, "y": {"field": "lo", "type": "quantitative"}}},
     {"mark": {"type": "tick", "color": "#c4c4c4", "size": 5, "thickness": 1}, "encoding": {"x": {"field": "c", "type": "nominal"}, "y": {"field": "hi", "type": "quantitative"}}},
     {"mark": {"type": "bar"}, "encoding": {"x": {"field": "c", "type": "nominal"}, "y": {"field": "q1", "type": "quantitative"}, "y2": {"field": "q3"}, "color": {"field": "c", "type": "nominal", "legend": null, "scale": {"domain": ["OA","OAu","OAub","OAw","1","2","3","4","5","6","7","8","9","10","A","B","C","D","E","F","G","W"], "range": ["#a3179e","#a3179e","#a3179e","#a3179e","#8c0000","#c01f2e","#e1263a","#bf4d00","#e0713f","#eea273","#e6d84f","#b9b9b9","#ffccaa","#555555","#0d5b1f","#18963a","#648525","#b2cf89","#333333","#f2eaa8","#7777e0","#3fd8df"]}}}},
     {"mark": {"type": "tick", "color": "#1e1e1e", "thickness": 1.6, "size": 11.9}, "encoding": {"x": {"field": "c", "type": "nominal"}, "y": {"field": "md", "type": "quantitative"}}},
     {"mark": {"type": "point", "filled": true, "color": "#ffffff", "opacity": 1, "size": 10}, "encoding": {"x": {"field": "c", "type": "nominal"}, "y": {"field": "mn", "type": "quantitative"}}}
    ]}
   ]}
 ], "spacing": 0}
], "spacing": -3},
{"vconcat": [
 {"hconcat": [
  {"width": 208, "height": 325, "title": {"text": " ", "fontSize": 16}, "view": {"stroke": null},
   "layer": [
    {"data": {"name": "notes"}, "transform": [{"filter": "datum.v == 'v3'"}], "mark": {"type": "text", "fontSize": 17, "color": "#6b6b6b", "align": "center", "baseline": "middle", "lineHeight": 24.5},
     "encoding": {"x": {"datum": 0.521, "type": "quantitative", "scale": {"domain": [0, 1], "nice": false, "zero": false}, "axis": null}, "y": {"datum": 0.674, "type": "quantitative", "scale": {"domain": [0, 1.1], "nice": false, "zero": false}, "axis": null}, "text": {"field": "lines"}}}
   ]},
  {"width": 406.2, "height": 325,
   "layer": [
    {"data": {"values": [{"c": "|"}]}, "mark": {"type": "rule", "color": "#c4c4c4", "strokeWidth": 1.5},
     "encoding": {"x": {"field": "c", "type": "nominal", "scale": {"type": "band", "domain": ["OA","OAu","OAub","OAw","|","1","2","3","4","5","6","7","8","9","10","A","B","C","D","E","F","G","W"], "paddingInner": 0.2, "paddingOuter": 1.037, "align": 0.117}, "axis": null}}},
    {"data": {"values": [{"c": "W"}]}, "mark": {"type": "rule", "color": "#dadada", "strokeWidth": 1.5}, "encoding": {"x": {"field": "c", "type": "nominal", "bandPosition": 1}}},
    {"data": {"name": "outl"}, "transform": [{"filter": "datum.p == 'A3'"}], "mark": {"type": "point", "filled": true, "color": "#c3c3c3", "opacity": 1, "size": 6, "clip": true}, "encoding": {"x": {"field": "c", "type": "nominal"}, "y": {"field": "v", "type": "quantitative", "scale": {"domain": [0, 1.1], "nice": false, "zero": false}, "axis": {"orient": "left", "domainColor": "#333333", "domainWidth": 2, "labels": false, "ticks": false, "title": null, "grid": true, "values": [0.2, 0.4, 0.6, 0.8, 1.0]}}}},
    {"data": {"name": "boxes"}, "transform": [{"filter": "datum.p == 'A3'"}], "layer": [
     {"mark": {"type": "rule", "color": "#c4c4c4", "strokeWidth": 1}, "encoding": {"x": {"field": "c", "type": "nominal"}, "y": {"field": "lo", "type": "quantitative"}, "y2": {"field": "hi"}}},
     {"mark": {"type": "tick", "color": "#c4c4c4", "size": 5, "thickness": 1}, "encoding": {"x": {"field": "c", "type": "nominal"}, "y": {"field": "lo", "type": "quantitative"}}},
     {"mark": {"type": "tick", "color": "#c4c4c4", "size": 5, "thickness": 1}, "encoding": {"x": {"field": "c", "type": "nominal"}, "y": {"field": "hi", "type": "quantitative"}}},
     {"mark": {"type": "bar"}, "encoding": {"x": {"field": "c", "type": "nominal"}, "y": {"field": "q1", "type": "quantitative"}, "y2": {"field": "q3"}, "color": {"field": "c", "type": "nominal", "legend": null, "scale": {"domain": ["OA","OAu","OAub","OAw","1","2","3","4","5","6","7","8","9","10","A","B","C","D","E","F","G","W"], "range": ["#a3179e","#a3179e","#a3179e","#a3179e","#8c0000","#c01f2e","#e1263a","#bf4d00","#e0713f","#eea273","#e6d84f","#b9b9b9","#ffccaa","#555555","#0d5b1f","#18963a","#648525","#b2cf89","#333333","#f2eaa8","#7777e0","#3fd8df"]}}}},
     {"mark": {"type": "tick", "color": "#1e1e1e", "thickness": 1.6, "size": 13}, "encoding": {"x": {"field": "c", "type": "nominal"}, "y": {"field": "md", "type": "quantitative"}}},
     {"mark": {"type": "point", "filled": true, "color": "#ffffff", "opacity": 1, "size": 10}, "encoding": {"x": {"field": "c", "type": "nominal"}, "y": {"field": "mn", "type": "quantitative"}}}
    ]}
   ]},
  {"width": 328, "height": 325,
   "layer": [
    {"data": {"values": [{"c": "|"}]}, "mark": {"type": "rule", "color": "#c4c4c4", "strokeWidth": 1.5},
     "encoding": {"x": {"field": "c", "type": "nominal", "scale": {"type": "band", "domain": ["OA","OAu","OAub","OAw","|","1","2","3","4","5","6","7","8","9","10","A","B","C","D","E","F","G","W"], "paddingInner": 0.2, "paddingOuter": 0.1}, "axis": null}}},
    {"data": {"name": "outl"}, "transform": [{"filter": "datum.p == 'B3'"}], "mark": {"type": "point", "filled": true, "color": "#c3c3c3", "opacity": 1, "size": 6, "clip": true}, "encoding": {"x": {"field": "c", "type": "nominal"}, "y": {"field": "v", "type": "quantitative", "scale": {"domain": [0, 1.1], "nice": false, "zero": false}, "axis": {"orient": "left", "domainColor": "#d4d4d4", "labels": false, "ticks": false, "title": null, "grid": true, "values": [0.2, 0.4, 0.6, 0.8, 1.0]}}}},
    {"data": {"name": "boxes"}, "transform": [{"filter": "datum.p == 'B3'"}], "layer": [
     {"mark": {"type": "rule", "color": "#c4c4c4", "strokeWidth": 1}, "encoding": {"x": {"field": "c", "type": "nominal"}, "y": {"field": "lo", "type": "quantitative"}, "y2": {"field": "hi"}}},
     {"mark": {"type": "tick", "color": "#c4c4c4", "size": 5, "thickness": 1}, "encoding": {"x": {"field": "c", "type": "nominal"}, "y": {"field": "lo", "type": "quantitative"}}},
     {"mark": {"type": "tick", "color": "#c4c4c4", "size": 5, "thickness": 1}, "encoding": {"x": {"field": "c", "type": "nominal"}, "y": {"field": "hi", "type": "quantitative"}}},
     {"mark": {"type": "bar"}, "encoding": {"x": {"field": "c", "type": "nominal"}, "y": {"field": "q1", "type": "quantitative"}, "y2": {"field": "q3"}, "color": {"field": "c", "type": "nominal", "legend": null, "scale": {"domain": ["OA","OAu","OAub","OAw","1","2","3","4","5","6","7","8","9","10","A","B","C","D","E","F","G","W"], "range": ["#a3179e","#a3179e","#a3179e","#a3179e","#8c0000","#c01f2e","#e1263a","#bf4d00","#e0713f","#eea273","#e6d84f","#b9b9b9","#ffccaa","#555555","#0d5b1f","#18963a","#648525","#b2cf89","#333333","#f2eaa8","#7777e0","#3fd8df"]}}}},
     {"mark": {"type": "tick", "color": "#1e1e1e", "thickness": 1.6, "size": 11.4}, "encoding": {"x": {"field": "c", "type": "nominal"}, "y": {"field": "md", "type": "quantitative"}}},
     {"mark": {"type": "point", "filled": true, "color": "#ffffff", "opacity": 1, "size": 10}, "encoding": {"x": {"field": "c", "type": "nominal"}, "y": {"field": "mn", "type": "quantitative"}}}
    ]}
   ]}
 ], "spacing": 0, "bounds": "flush"},
 {"hconcat": [
  {"width": 208, "height": 322, "view": {"stroke": null},
   "layer": [
    {"data": {"name": "notes"}, "transform": [{"filter": "datum.v == 'v4'"}], "mark": {"type": "text", "fontSize": 17, "color": "#6b6b6b", "align": "center", "baseline": "middle", "lineHeight": 24.5},
     "encoding": {"x": {"datum": 0.521, "type": "quantitative", "scale": {"domain": [0, 1], "nice": false, "zero": false}, "axis": null}, "y": {"datum": 0.661, "type": "quantitative", "scale": {"domain": [0, 1.1], "nice": false, "zero": false}, "axis": null}, "text": {"field": "lines"}}},
    {"data": {"name": "leaders"}, "mark": {"type": "rule", "color": "#8c8c8c", "strokeWidth": 1.2}, "encoding": {"x": {"datum": 0.798, "type": "quantitative"}, "x2": {"datum": 1.05}, "y": {"field": "lab", "type": "quantitative"}}},
    {"data": {"name": "leaders"}, "transform": [{"filter": "datum.sub == ''"}], "mark": {"type": "text", "fontSize": 16.5, "color": "#6b6b6b", "align": "right", "baseline": "middle"}, "encoding": {"x": {"datum": 0.765, "type": "quantitative"}, "y": {"field": "lab", "type": "quantitative"}, "text": {"field": "main"}}},
    {"data": {"name": "leaders"}, "transform": [{"filter": "datum.sub != ''"}], "mark": {"type": "text", "fontSize": 16.5, "color": "#6b6b6b", "align": "right", "baseline": "middle"}, "encoding": {"x": {"datum": 0.70, "type": "quantitative"}, "y": {"field": "lab", "type": "quantitative"}, "text": {"field": "main"}}},
    {"data": {"name": "leaders"}, "transform": [{"filter": "datum.sub != ''"}], "mark": {"type": "text", "fontSize": 11, "color": "#6b6b6b", "align": "left", "baseline": "middle", "dy": 7}, "encoding": {"x": {"datum": 0.70, "type": "quantitative"}, "y": {"field": "lab", "type": "quantitative"}, "text": {"field": "sub"}}}
   ]},
  {"width": 406.2, "height": 322,
   "layer": [
    {"data": {"values": [{"c": "|"}]}, "mark": {"type": "rule", "color": "#c4c4c4", "strokeWidth": 1.5},
     "encoding": {"x": {"field": "c", "type": "nominal", "scale": {"type": "band", "domain": ["OA","OAu","OAub","OAw","|","1","2","3","4","5","6","7","8","9","10","A","B","C","D","E","F","G","W"], "paddingInner": 0.2, "paddingOuter": 1.037, "align": 0.117}, "axis": {"orient": "bottom", "labels": false, "ticks": false, "domainColor": "#333333", "domainWidth": 2, "title": "F1 Accuracy LCZs", "titleFontSize": 16, "titleFontWeight": "normal", "titleColor": "#666666", "titleX": 219, "titlePadding": 11}}}},
    {"data": {"values": [{"c": "W"}]}, "mark": {"type": "rule", "color": "#dadada", "strokeWidth": 1.5}, "encoding": {"x": {"field": "c", "type": "nominal", "bandPosition": 1}}},
    {"data": {"name": "outl"}, "transform": [{"filter": "datum.p == 'A4'"}], "mark": {"type": "point", "filled": true, "color": "#c3c3c3", "opacity": 1, "size": 6, "clip": true}, "encoding": {"x": {"field": "c", "type": "nominal"}, "y": {"field": "v", "type": "quantitative", "scale": {"domain": [0, 1.1], "nice": false, "zero": false}, "axis": {"orient": "left", "domainColor": "#333333", "domainWidth": 2, "labels": false, "ticks": false, "title": null, "grid": true, "values": [0.2, 0.4, 0.6, 0.8, 1.0]}}}},
    {"data": {"name": "leaders"}, "mark": {"type": "rule", "color": "#8c8c8c", "strokeWidth": 1.2}, "encoding": {"x": {"field": "m", "type": "nominal"}, "y": {"field": "lab", "type": "quantitative"}, "y2": {"field": "top"}}},
    {"data": {"name": "leadh"}, "mark": {"type": "line", "color": "#8c8c8c", "strokeWidth": 1.2}, "encoding": {"x": {"field": "m", "type": "nominal"}, "y": {"field": "lab", "type": "quantitative"}, "detail": {"field": "g"}}},
    {"data": {"name": "boxes"}, "transform": [{"filter": "datum.p == 'A4'"}], "layer": [
     {"mark": {"type": "rule", "color": "#c4c4c4", "strokeWidth": 1}, "encoding": {"x": {"field": "c", "type": "nominal"}, "y": {"field": "lo", "type": "quantitative"}, "y2": {"field": "hi"}}},
     {"mark": {"type": "tick", "color": "#c4c4c4", "size": 5, "thickness": 1}, "encoding": {"x": {"field": "c", "type": "nominal"}, "y": {"field": "lo", "type": "quantitative"}}},
     {"mark": {"type": "tick", "color": "#c4c4c4", "size": 5, "thickness": 1}, "encoding": {"x": {"field": "c", "type": "nominal"}, "y": {"field": "hi", "type": "quantitative"}}},
     {"mark": {"type": "bar"}, "encoding": {"x": {"field": "c", "type": "nominal"}, "y": {"field": "q1", "type": "quantitative"}, "y2": {"field": "q3"}, "color": {"field": "c", "type": "nominal", "legend": null, "scale": {"domain": ["OA","OAu","OAub","OAw","1","2","3","4","5","6","7","8","9","10","A","B","C","D","E","F","G","W"], "range": ["#a3179e","#a3179e","#a3179e","#a3179e","#8c0000","#c01f2e","#e1263a","#bf4d00","#e0713f","#eea273","#e6d84f","#b9b9b9","#ffccaa","#555555","#0d5b1f","#18963a","#648525","#b2cf89","#333333","#f2eaa8","#7777e0","#3fd8df"]}}}},
     {"mark": {"type": "tick", "color": "#1e1e1e", "thickness": 1.6, "size": 13}, "encoding": {"x": {"field": "c", "type": "nominal"}, "y": {"field": "md", "type": "quantitative"}}},
     {"mark": {"type": "point", "filled": true, "color": "#ffffff", "opacity": 1, "size": 10}, "encoding": {"x": {"field": "c", "type": "nominal"}, "y": {"field": "mn", "type": "quantitative"}}}
    ]},
    {"data": {"name": "classes"}, "mark": {"type": "text", "fontSize": 14, "color": "#777777", "baseline": "middle"}, "encoding": {"x": {"field": "c", "type": "nominal"}, "y": {"datum": 1.061, "type": "quantitative"}, "text": {"field": "c"}}}
   ]},
  {"width": 328, "height": 322,
   "layer": [
    {"data": {"values": [{"c": "|"}]}, "mark": {"type": "rule", "color": "#c4c4c4", "strokeWidth": 1.5},
     "encoding": {"x": {"field": "c", "type": "nominal", "scale": {"type": "band", "domain": ["OA","OAu","OAub","OAw","|","1","2","3","4","5","6","7","8","9","10","A","B","C","D","E","F","G","W"], "paddingInner": 0.2, "paddingOuter": 0.1}, "axis": {"orient": "bottom", "labels": false, "ticks": false, "domainColor": "#333333", "domainWidth": 2, "title": null}}}},
    {"data": {"name": "outl"}, "transform": [{"filter": "datum.p == 'B4'"}], "mark": {"type": "point", "filled": true, "color": "#c3c3c3", "opacity": 1, "size": 6, "clip": true}, "encoding": {"x": {"field": "c", "type": "nominal"}, "y": {"field": "v", "type": "quantitative", "scale": {"domain": [0, 1.1], "nice": false, "zero": false}, "axis": {"orient": "left", "domainColor": "#d4d4d4", "ticks": false, "title": null, "grid": true, "values": [0, 0.2, 0.4, 0.6, 0.8, 1.0], "labelExpr": "datum.value == 0 || datum.value == 0.6 || datum.value == 1 ? format(datum.value, '.1f') : ''", "labelBaseline": "alphabetic", "labelFontSize": 14, "labelColor": "#777777", "labelPadding": 5}}}},
    {"data": {"name": "boxes"}, "transform": [{"filter": "datum.p == 'B4'"}], "layer": [
     {"mark": {"type": "rule", "color": "#c4c4c4", "strokeWidth": 1}, "encoding": {"x": {"field": "c", "type": "nominal"}, "y": {"field": "lo", "type": "quantitative"}, "y2": {"field": "hi"}}},
     {"mark": {"type": "tick", "color": "#c4c4c4", "size": 5, "thickness": 1}, "encoding": {"x": {"field": "c", "type": "nominal"}, "y": {"field": "lo", "type": "quantitative"}}},
     {"mark": {"type": "tick", "color": "#c4c4c4", "size": 5, "thickness": 1}, "encoding": {"x": {"field": "c", "type": "nominal"}, "y": {"field": "hi", "type": "quantitative"}}},
     {"mark": {"type": "bar"}, "encoding": {"x": {"field": "c", "type": "nominal"}, "y": {"field": "q1", "type": "quantitative"}, "y2": {"field": "q3"}, "color": {"field": "c", "type": "nominal", "legend": null, "scale": {"domain": ["OA","OAu","OAub","OAw","1","2","3","4","5","6","7","8","9","10","A","B","C","D","E","F","G","W"], "range": ["#a3179e","#a3179e","#a3179e","#a3179e","#8c0000","#c01f2e","#e1263a","#bf4d00","#e0713f","#eea273","#e6d84f","#b9b9b9","#ffccaa","#555555","#0d5b1f","#18963a","#648525","#b2cf89","#333333","#f2eaa8","#7777e0","#3fd8df"]}}}},
     {"mark": {"type": "tick", "color": "#1e1e1e", "thickness": 1.6, "size": 11.4}, "encoding": {"x": {"field": "c", "type": "nominal"}, "y": {"field": "md", "type": "quantitative"}}},
     {"mark": {"type": "point", "filled": true, "color": "#ffffff", "opacity": 1, "size": 10}, "encoding": {"x": {"field": "c", "type": "nominal"}, "y": {"field": "mn", "type": "quantitative"}}}
    ]}
   ]}
 ], "spacing": 0, "bounds": "flush"}
], "spacing": -3}
],
"spacing": 0
}
